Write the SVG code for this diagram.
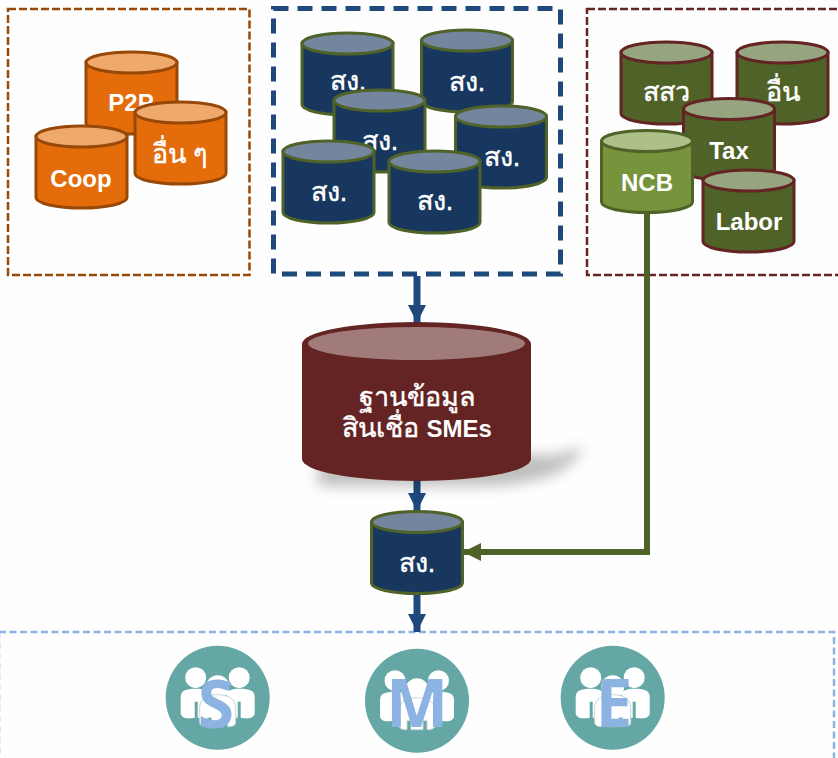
<svg xmlns="http://www.w3.org/2000/svg" width="838" height="758" viewBox="0 0 838 758">
<style>
text{font-family:"Liberation Sans","Noto Sans",sans-serif;font-size:24px;font-weight:700;fill:#fff;text-anchor:middle}
.th{font-size:27px;font-weight:400;stroke:#fff;stroke-width:.4}
.th tspan{font-size:24px;font-weight:700;stroke:none}
.o{--b:#e46c0a;--t:#f0a96c;--s:#984807}
.n{--b:#17375e;--t:#74859e;--s:#4f6228}
.g{--b:#4f6228;--t:#97a480;--s:#632423}
.l{--b:#77933c;--t:#adc08a;--s:#4f6228}
.b{fill:var(--b);stroke:var(--s);stroke-width:3}
.t{fill:var(--t);stroke:var(--s);stroke-width:3}
.frame{fill:none}
.letter{font-family:"Noto Sans","Open Sans",sans-serif;font-size:66px;fill:#8db3e2}
</style>
<defs>
<g id="cyl"><path class="b" d="M0 10.500V71.500A45.500 10.500 0 0 0 91 71.500V10.500Z"/><ellipse class="t" cx="45.500" cy="10.500" rx="45.500" ry="10.500"/></g>
<marker id="ab" viewBox="0 0 18 18" refX="18" refY="9" markerWidth="18" markerHeight="18" markerUnits="userSpaceOnUse" orient="auto"><path d="M0 0L18 9L0 18Z" fill="#1f497d"/></marker>
<marker id="ag" viewBox="0 0 18 18" refX="18" refY="9" markerWidth="18" markerHeight="18" markerUnits="userSpaceOnUse" orient="auto"><path d="M0 0L18 9L0 18Z" fill="#4f6228"/></marker>
<filter id="blur" x="-30%" y="-30%" width="160%" height="160%"><feGaussianBlur stdDeviation="7"/></filter>
<g id="people">
<circle r="52" fill="#64a7a4"/>
<g fill="#fff">
<circle cx="-22" cy="-20" r="10.500"/><circle cx="21.500" cy="-20" r="10.500"/>
<path d="M-37 16V-1C-37-7-32-9-22-9C-14-9-10-7-8-4L-16 8V20H-20V4H-23V20C-28 21-33 21-35 19C-36 18-37 17-37 16Z"/>
<path d="M37 16V-1C37-7 32-9 22-9C14-9 10-7 8-4L16 8V20H20V4H23V20C28 21 33 21 35 19C36 18 37 17 37 16Z"/>
<circle cy="-11" r="11.500"/>
<path d="M-18 25V10C-18 1-10-3 0-3C10-3 18 1 18 10V25C18 28 14 29 10 29V20H6V29H-6V20H-10V29C-14 29-18 28-18 25Z" stroke="#c8d6d4"/>
</g>
</g>
</defs>
<rect width="838" height="758" fill="#fefefe"/>
<g id="group-left"><rect class="frame" x="8" y="9" width="241.500" height="266" stroke="#984807" stroke-width="2.500" stroke-dasharray="8 3"/></g>
<g id="group-middle"><rect class="frame" x="273.500" y="8.500" width="287" height="265.500" stroke="#1f497d" stroke-width="5" stroke-dasharray="15 9"/></g>
<g id="group-right"><rect class="frame" x="587" y="9" width="270" height="266" stroke="#632423" stroke-width="2.500" stroke-dasharray="8 3"/></g>
<g id="group-bottom"><rect class="frame" x="-1" y="632" width="835" height="150" stroke="#8db3e2" stroke-width="2.500" stroke-dasharray="7 3.500"/></g>
<g id="connectors" fill="none">
<path d="M417 276V323" stroke="#1f497d" stroke-width="7" marker-end="url(#ab)"/>
<path d="M417 478V511" stroke="#1f497d" stroke-width="7" marker-end="url(#ab)"/>
<path d="M417 592V632" stroke="#1f497d" stroke-width="7" marker-end="url(#ab)"/>
<path d="M647 210V552H463" stroke="#4f6228" stroke-width="6" marker-end="url(#ag)"/>
</g>
<g id="p2p" class="o"><use href="#cyl" x="86" y="52"/><text x="131" y="111">P2P</text></g>
<g id="coop" class="o"><use href="#cyl" x="36" y="126"/><text x="81" y="187">Coop</text></g>
<g id="other-o" class="o"><use href="#cyl" x="135" y="102"/><text class="th" x="180" y="163">อื่น ๆ</text></g>
<g id="n1" class="n"><use href="#cyl" x="302" y="33"/><text class="th" x="348" y="90">สง.</text></g>
<g id="n2" class="n"><use href="#cyl" x="421.500" y="30"/><text class="th" x="467" y="91">สง.</text></g>
<g id="n3" class="n"><use href="#cyl" x="334" y="90"/><text class="th" x="380" y="150">สง.</text></g>
<g id="n4" class="n"><use href="#cyl" x="455.500" y="106"/><text class="th" x="502" y="166">สง.</text></g>
<g id="n5" class="n"><use href="#cyl" x="283" y="141"/><text class="th" x="329" y="201">สง.</text></g>
<g id="n6" class="n"><use href="#cyl" x="389" y="151"/><text class="th" x="435" y="210">สง.</text></g>
<g id="ssw" class="g"><use href="#cyl" x="621" y="42"/><text class="th" x="666" y="101">สสว</text></g>
<g id="other-g" class="g"><use href="#cyl" x="737" y="42"/><text class="th" x="783" y="101">อื่น</text></g>
<g id="tax" class="g"><use href="#cyl" x="683.500" y="98.500"/><text x="729" y="159">Tax</text></g>
<g id="ncb" class="l"><use href="#cyl" x="601.500" y="130.500"/><text x="647" y="191">NCB</text></g>
<g id="labor" class="g"><use href="#cyl" x="703" y="170"/><text x="749" y="230">Labor</text></g>
<g id="sme-db">
<path d="M330 455H555L583 447C575 470 540 486 480 486H325C312 484 315 470 330 455Z" fill="#000" opacity=".25" filter="url(#blur)"/>
<path d="M302 344A114.500 22 0 0 1 531 344V459A114.500 22 0 0 1 302 459Z" fill="#632423"/>
<ellipse cx="416.500" cy="343.500" rx="108.500" ry="16.500" fill="#a17a7a"/>
<text class="th" x="417" y="406">ฐานข้อมูล</text>
<text class="th" x="417" y="437">สินเชื่อ <tspan>SMEs</tspan></text>
</g>
<g id="bank" class="n"><use href="#cyl" x="371.500" y="511.500"/><text class="th" x="417" y="572">สง.</text></g>
<g id="s"><use href="#people" x="217.700" y="697.700"/><text class="letter" x="216" y="728">S</text></g>
<g id="m"><use href="#people" x="417" y="700.700"/><text class="letter" x="417" y="727">M</text></g>
<g id="e"><use href="#people" x="612.700" y="697.700"/><text class="letter" x="614" y="727">E</text></g>
</svg>
